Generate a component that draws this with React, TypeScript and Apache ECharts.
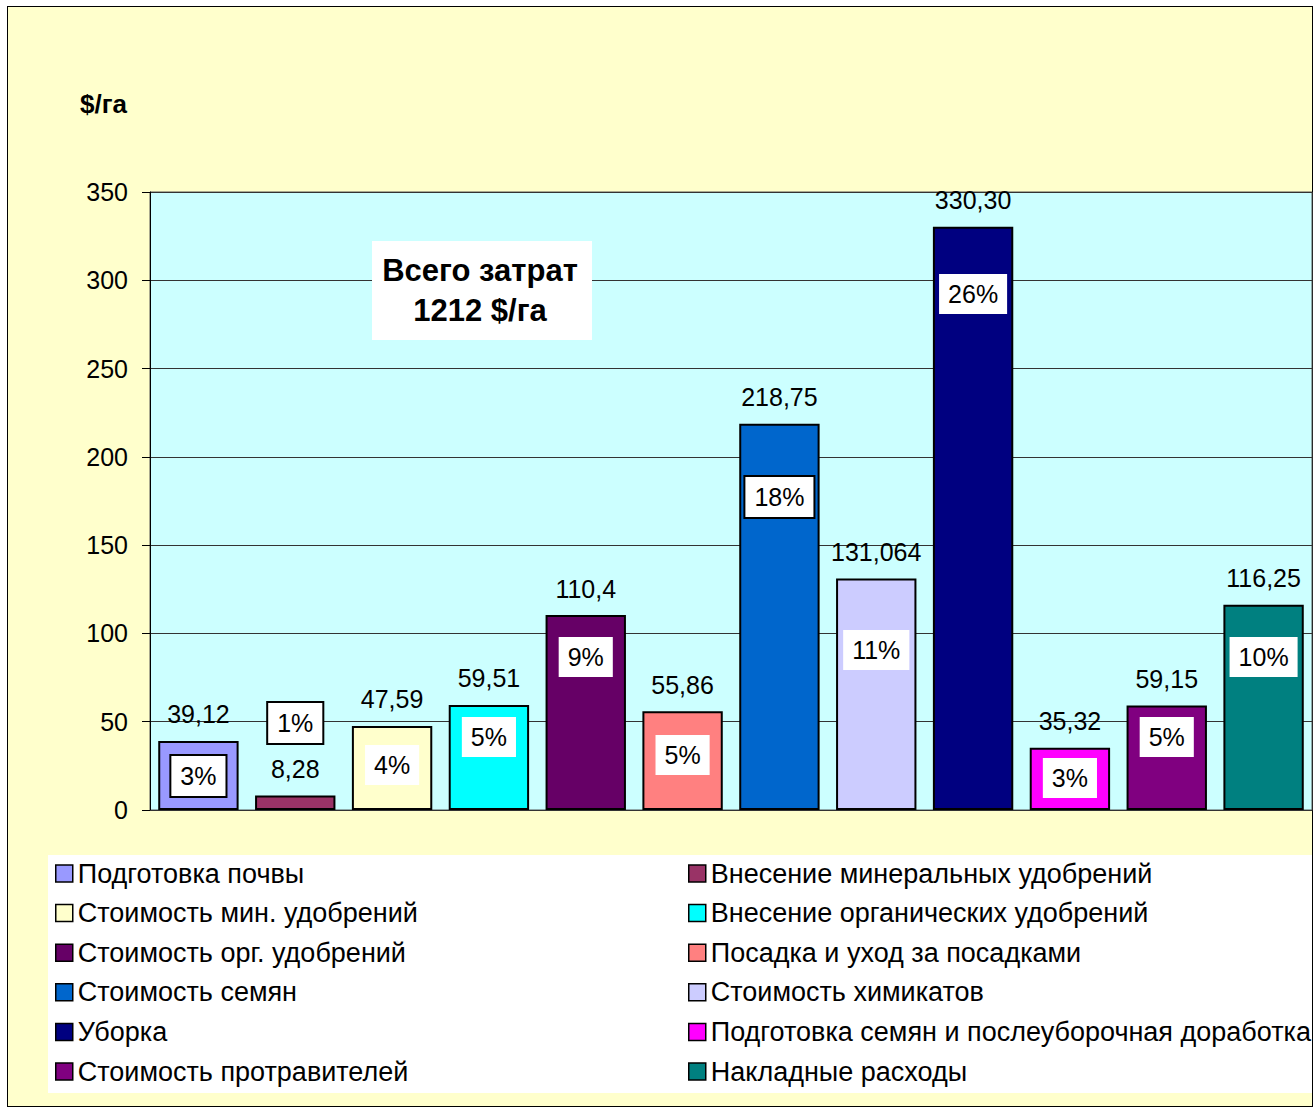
import React, { useEffect, useRef } from "react";
import * as echarts from "echarts";

const seriesNames = [
  "Подготовка почвы",
  "Внесение минеральных удобрений",
  "Стоимость мин. удобрений",
  "Внесение органических удобрений",
  "Стоимость орг. удобрений",
  "Посадка и уход за посадками",
  "Стоимость семян",
  "Стоимость химикатов",
  "Уборка",
  "Подготовка семян и послеуборочная доработка",
  "Стоимость протравителей",
  "Накладные расходы",
];
const values = [39.12, 8.28, 47.59, 59.51, 110.4, 55.86, 218.75, 131.064, 330.3, 35.32, 59.15, 116.25];
const valueLabels = ["39,12", "8,28", "47,59", "59,51", "110,4", "55,86", "218,75", "131,064", "330,30", "35,32", "59,15", "116,25"];
const percentLabels = ["3%", "1%", "4%", "5%", "9%", "5%", "18%", "11%", "26%", "3%", "5%", "10%"];
// where each percent box sits, in $/га units
const percentAt = [19.3, 49.3, 25.5, 41.3, 86.6, 31.1, 177.3, 90.6, 292.2, 18.1, 41.3, 86.6];
const percentBoxed = [true, true, false, false, false, false, true, false, false, false, false, false];
const colors = ["#9999FF", "#993366", "#FFFFCC", "#00FFFF", "#660066", "#FF8080", "#0066CC", "#CCCCFF", "#000080", "#FF00FF", "#800080", "#008080"];
const yTicks = { min: 0, max: 350, interval: 50 };
const unitLabel = "$/га";
const totalLabel = "Всего затрат\n1212 $/га";

const FONT = "'Liberation Sans', Arial, sans-serif";

export default function App() {
  const ref = useRef<HTMLDivElement>(null);
  useEffect(() => {
    if (!ref.current) return;
    const chart = echarts.init(ref.current, null, { renderer: "svg" });
    const cats = seriesNames.map((_, i) => String(i));
    const barSeries = seriesNames.map((name, i) => ({
      name,
      type: "bar",
      stack: "total",
      barCategoryGap: "17%",
      data: cats.map((_, j) => (j === i ? values[i] : "-")),
      itemStyle: { color: colors[i], borderColor: "#000", borderWidth: 2 },
      label: {
        show: true,
        position: "top",
        distance: 14,
        formatter: () => valueLabels[i],
        color: "#000",
        fontSize: 25,
        fontFamily: FONT,
      },
      z: 2,
    }));
    const pctSeries = {
      name: "pct",
      type: "scatter",
      symbolSize: 1,
      itemStyle: { color: "rgba(0,0,0,0)", opacity: 1 },
      z: 5,
      data: percentLabels.map((p, j) => ({
        value: [j, percentAt[j]],
        label: {
          show: true,
          position: "inside",
          formatter: p,
          color: "#000",
          fontSize: 25,
          fontFamily: FONT,
          backgroundColor: "#fff",
          padding: [8, 9, 7, 9],
          borderColor: "#000",
          borderWidth: percentBoxed[j] ? 2 : 0,
          textBorderWidth: 0,
        },
      })),
    };
    const legendCommon = {
      orient: "vertical",
      icon: "rect",
      itemWidth: 17,
      itemHeight: 17,
      itemGap: 12.6,
      itemStyle: { borderColor: "#000", borderWidth: 1.5 },
      textStyle: { fontSize: 27, fontFamily: FONT, color: "#000", lineHeight: 27 },
      top: 860,
      padding: 0,
    };
    chart.setOption({
      animation: false,
      backgroundColor: "transparent",
      grid: {
        left: 150,
        right: 3,
        top: 192,
        bottom: 299,
        show: true,
        backgroundColor: "#CCFFFF",
        borderColor: "#555",
        borderWidth: 1,
      },
      xAxis: {
        type: "category",
        data: cats,
        axisLine: { show: true, lineStyle: { color: "#333", width: 1 } },
        axisTick: { show: false },
        axisLabel: { show: false },
        splitLine: { show: false },
      },
      yAxis: {
        type: "value",
        min: yTicks.min,
        max: yTicks.max,
        interval: yTicks.interval,
        axisLine: { show: true, lineStyle: { color: "#000", width: 1 } },
        axisTick: { show: true, length: 8, lineStyle: { color: "#000" } },
        axisLabel: { fontSize: 25, fontFamily: FONT, color: "#000", margin: 22 },
        splitLine: { show: true, lineStyle: { color: "#333", width: 1 } },
      },
      legend: [
        { ...legendCommon, left: 55, data: seriesNames.filter((_, i) => i % 2 === 0) },
        { ...legendCommon, left: 688, data: seriesNames.filter((_, i) => i % 2 === 1) },
      ],
      graphic: [
        {
          type: "rect",
          z: 1,
          shape: { x: 48, y: 855, width: 1264, height: 238 },
          style: { fill: "#fff" },
        },
        {
          type: "text",
          z: 10,
          x: 80,
          y: 104,
          style: {
            text: unitLabel,
            font: `bold 26px ${FONT}`,
            fill: "#000",
            verticalAlign: "middle",
          },
        },
        {
          type: "rect",
          z: 100,
          shape: { x: 372, y: 241, width: 220, height: 99 },
          style: { fill: "#fff" },
        },
        {
          type: "text",
          z: 101,
          x: 480,
          y: 290,
          style: {
            text: totalLabel,
            font: `bold 31px ${FONT}`,
            fill: "#000",
            align: "center",
            verticalAlign: "middle",
            lineHeight: 40,
          },
        },
      ],
      series: [...barSeries, pctSeries],
    });
    return () => chart.dispose();
  }, []);
  return (
    <div style={{ position: "absolute", left: 0, top: 0, width: 1315, height: 1109, background: "#fff" }}>
      <div
        style={{
          position: "absolute",
          left: 7,
          top: 6,
          width: 1306,
          height: 1101,
          boxSizing: "border-box",
          border: "1px solid #000",
          background: "#FFFFCC",
        }}
      />
      <div ref={ref} style={{ position: "absolute", left: 0, top: 0, width: 1315, height: 1109 }} />
    </div>
  );
}
